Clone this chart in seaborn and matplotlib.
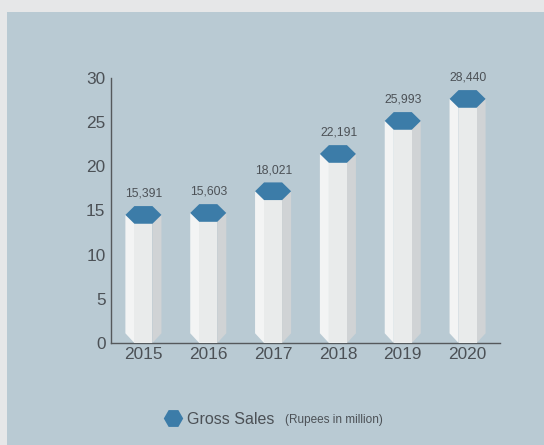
import matplotlib
matplotlib.use("Agg")
import matplotlib.pyplot as plt
from matplotlib.lines import Line2D
from matplotlib.patches import Rectangle
import pandas as pd
import seaborn as sns

years = ["2015", "2016", "2017", "2018", "2019", "2020"]
bar_heights = [14.5, 14.72, 17.18, 21.4, 25.14, 27.63]
value_labels = ["15,391", "15,603", "18,021", "22,191", "25,993", "28,440"]
y_ticks = [0, 5, 10, 15, 20, 25, 30]

sns.set_theme(style="white")
plt.rcParams["font.family"] = ["Liberation Sans", "DejaVu Sans"]

OUTER = "#e6e7e8"
PANEL = "#b9cad3"
TEXT = "#4c5156"
AXIS = "#55595c"
FRONT = "#e9ebeb"
LEFT = "#f3f4f4"
RIGHT = "#d0d3d5"
CAP = "#3c7ca8"

W, H = 544, 445
fig = plt.figure(figsize=(W / 100, H / 100), dpi=100, facecolor=OUTER)
fig.patches.append(Rectangle((7 / W, 0), (W - 7) / W, 1 - 12 / H,
                             transform=fig.transFigure, facecolor=PANEL,
                             edgecolor="none", zorder=-5))
ax = fig.add_axes([111 / W, 1 - 343 / H, 389 / W, 265 / H])
ax.patch.set_alpha(0)

HALF = 0.278      # half of a column's full width, in category units
INNER = 0.139     # half of the front face's width
CAP_H = 1.0       # half of the cap's height, in value units
CHAMFER = 1.1

df = pd.DataFrame({"year": years, "height": bar_heights})
sns.barplot(data=df, x="year", y="height", ax=ax, color=FRONT, saturation=1,
            width=2 * INNER, linewidth=0, zorder=3, errorbar=None)

for i, v in enumerate(bar_heights):
    ax.fill([i - HALF, i - INNER, i - INNER, i - HALF],
            [CHAMFER, 0, v, v], color=LEFT, lw=0, zorder=2, clip_on=False)
    ax.fill([i + HALF, i + INNER, i + INNER, i + HALF],
            [CHAMFER, 0, v, v], color=RIGHT, lw=0, zorder=2, clip_on=False)
    ax.fill([i - HALF, i - INNER, i + INNER, i + HALF, i + INNER, i - INNER],
            [v, v + CAP_H, v + CAP_H, v, v - CAP_H, v - CAP_H],
            color=CAP, lw=0, zorder=4)
    ax.annotate(value_labels[i], (i, v + CAP_H), xytext=(0.5, 4.5),
                textcoords="offset points", ha="center", va="bottom",
                fontsize=8.7, color=TEXT)

ax.set_xlim(-0.5, 5.5)
ax.set_ylim(0, 30)
ax.set_yticks(y_ticks)
ax.set_xlabel("")
ax.set_ylabel("")
ax.tick_params(axis="both", length=0, labelsize=12.4, labelcolor=TEXT)
ax.tick_params(axis="x", pad=3)
ax.tick_params(axis="y", pad=4)
for side in ("top", "right"):
    ax.spines[side].set_visible(False)
for side in ("left", "bottom"):
    ax.spines[side].set_color(AXIS)
    ax.spines[side].set_linewidth(1.0)
    ax.spines[side].set_zorder(1)

handle = Line2D([], [], linestyle="none", marker="H", markersize=14,
                markerfacecolor=CAP, markeredgecolor="none")
fig.legend([handle], ["Gross Sales"], loc="center left",
           bbox_to_anchor=(157 / W, 1 - 419 / H), frameon=False,
           fontsize=11.5, labelcolor=TEXT, handletextpad=-0.12, borderpad=0,
           borderaxespad=0, handlelength=2)
fig.text(285 / W, 1 - 420 / H, "(Rupees in million)", fontsize=8.5,
         color=TEXT, ha="left", va="center")

fig.savefig("out.png", dpi=100, facecolor=OUTER)
